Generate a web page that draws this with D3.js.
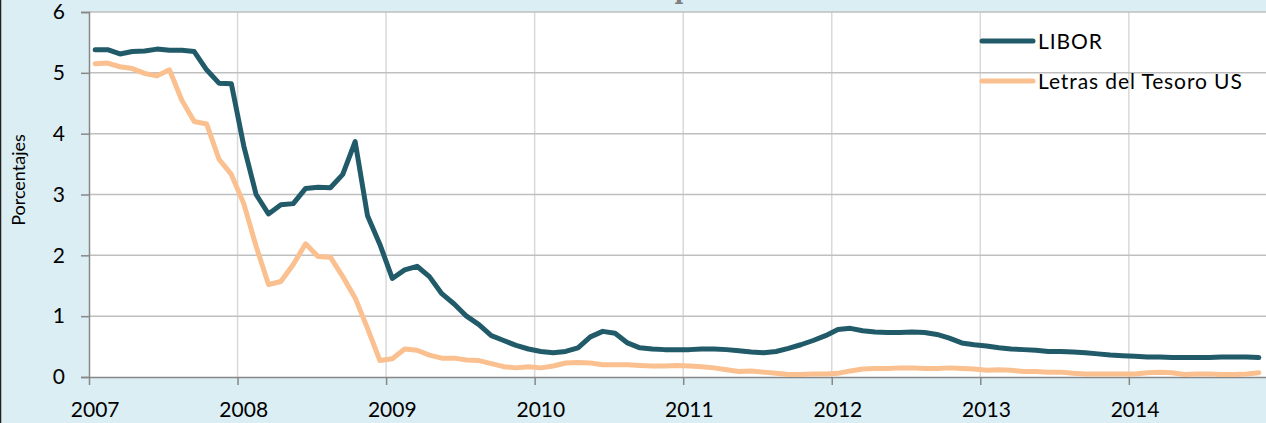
<!DOCTYPE html>
<html>
<head>
<meta charset="utf-8">
<script src="https://cdn.jsdelivr.net/npm/d3@7"></script>
<style>
  html, body { margin: 0; padding: 0; background: #dbeef4; }
  svg { display: block; font-family: Lato, "Open Sans", sans-serif; }
</style>
</head>
<body>
<svg id="chart"></svg>
<script>
// monthly data, Jan 2007 - Nov 2014
const years = ["2007", "2008", "2009", "2010", "2011", "2012", "2013", "2014"];
const yTicks = [0, 1, 2, 3, 4, 5, 6];
const seriesNames = ["LIBOR", "Letras del Tesoro US"];

const libor = [
  5.38, 5.38, 5.31, 5.35, 5.36, 5.39, 5.37, 5.37, 5.35, 5.05, 4.83, 4.82,
  3.80, 3.00, 2.68, 2.83, 2.85, 3.10, 3.12, 3.11, 3.33, 3.87, 2.65, 2.18,
  1.62, 1.76, 1.82, 1.65, 1.37, 1.20, 1.00, 0.86, 0.68, 0.60, 0.52, 0.46,
  0.42, 0.40, 0.42, 0.48, 0.66, 0.75, 0.72, 0.56, 0.48, 0.46, 0.45, 0.45,
  0.45, 0.46, 0.46, 0.45, 0.43, 0.41, 0.40, 0.42, 0.47, 0.53, 0.60, 0.68,
  0.78, 0.80, 0.76, 0.74, 0.73, 0.73, 0.74, 0.73, 0.70, 0.64, 0.56, 0.53,
  0.51, 0.48, 0.46, 0.45, 0.44, 0.42, 0.42, 0.41, 0.40, 0.38, 0.36, 0.35,
  0.34, 0.33, 0.33, 0.32, 0.32, 0.32, 0.32, 0.33, 0.33, 0.33, 0.32
];

const tbill = [
  5.15, 5.16, 5.10, 5.07, 4.99, 4.95, 5.05, 4.55, 4.20, 4.16, 3.58, 3.33,
  2.85, 2.15, 1.52, 1.57, 1.85, 2.19, 1.98, 1.97, 1.65, 1.30, 0.80, 0.27,
  0.30, 0.46, 0.44, 0.36, 0.31, 0.31, 0.28, 0.27, 0.22, 0.17, 0.15, 0.17,
  0.15, 0.18, 0.23, 0.24, 0.23, 0.20, 0.20, 0.20, 0.19, 0.18, 0.18, 0.19,
  0.18, 0.17, 0.15, 0.12, 0.09, 0.10, 0.08, 0.06, 0.04, 0.04, 0.05, 0.05,
  0.06, 0.10, 0.13, 0.14, 0.14, 0.15, 0.15, 0.14, 0.14, 0.15, 0.14, 0.13,
  0.11, 0.12, 0.11, 0.09, 0.09, 0.08, 0.08, 0.06, 0.05, 0.05, 0.05, 0.05,
  0.05, 0.07, 0.08, 0.07, 0.04, 0.05, 0.05, 0.04, 0.04, 0.05, 0.07
];

const colors = ["#215a68", "#fac090"];

const width = 1266, height = 423;
const plotLeft = 89, plotRight = 1265, plotTop = 12, plotBottom = 377;

const svg = d3.select("#chart")
  .attr("width", width)
  .attr("height", height);

svg.append("rect")
  .attr("width", width).attr("height", height)
  .attr("fill", "#dbeef4");

// left frame edge
svg.append("line")
  .attr("x1", 0.5).attr("x2", 0.5).attr("y1", 0).attr("y2", height)
  .attr("stroke", "#222").attr("stroke-width", 1.5);

// title is cut off at the top, only a descender shows
svg.append("text")
  .attr("x", 683).attr("y", -1)
  .attr("text-anchor", "middle")
  .attr("font-family", "'DejaVu Serif', serif")
  .attr("font-weight", "bold")
  .attr("font-size", 24)
  .attr("fill", "#7f7f7f")
  .text("p");

const x = d3.scaleLinear().domain([0, libor.length]).range([plotLeft, plotRight]);
const y = d3.scaleLinear().domain([0, 6]).range([plotBottom, plotTop]);

svg.append("rect")
  .attr("x", plotLeft).attr("y", plotTop)
  .attr("width", plotRight - plotLeft + 1).attr("height", plotBottom - plotTop)
  .attr("fill", "#fff");

const yearTicks = years.map((d, i) => i * 12);

// vertical grid
svg.append("g")
  .selectAll("line")
  .data(yearTicks.slice(1))
  .join("line")
  .attr("x1", d => x(d)).attr("x2", d => x(d))
  .attr("y1", plotTop).attr("y2", plotBottom)
  .attr("stroke", "#d9d9d9").attr("stroke-width", 1.5);

// horizontal grid
svg.append("g")
  .selectAll("line")
  .data(yTicks.slice(1))
  .join("line")
  .attr("x1", plotLeft).attr("x2", plotRight + 1)
  .attr("y1", d => y(d)).attr("y2", d => y(d))
  .attr("stroke", "#bfbfbf").attr("stroke-width", 1.5);

// y axis
const yAxis = svg.append("g")
  .attr("transform", `translate(${plotLeft},0)`)
  .call(d3.axisLeft(y).tickValues(yTicks).tickSize(8).tickPadding(16).tickFormat(d3.format("d")));
yAxis.select(".domain").attr("stroke", "#878787").attr("stroke-width", 1.5);
yAxis.selectAll(".tick line").attr("stroke", "#878787").attr("stroke-width", 1.5);
yAxis.selectAll(".tick text")
  .attr("font-size", 21).attr("font-family", "Lato").attr("fill", "#000");

// x axis
const xAxis = svg.append("g")
  .attr("transform", `translate(0,${plotBottom})`)
  .call(d3.axisBottom(x).tickValues(yearTicks).tickSize(8).tickFormat(""));
xAxis.select(".domain").attr("stroke", "#878787").attr("stroke-width", 1.5)
  .attr("d", `M${plotLeft},0.5H${plotRight + 1}`);
xAxis.selectAll(".tick line").attr("stroke", "#878787").attr("stroke-width", 1.5);

svg.append("g")
  .selectAll("text")
  .data(years)
  .join("text")
  .attr("x", (d, i) => x(i * 12 + 0.5))
  .attr("y", 417)
  .attr("text-anchor", "middle")
  .attr("font-size", 21)
  .attr("fill", "#000")
  .text(d => d);

// y axis title
svg.append("text")
  .attr("transform", "translate(25,180) rotate(-90)")
  .attr("text-anchor", "middle")
  .attr("font-size", 18)
  .attr("fill", "#000")
  .text("Porcentajes");

// lines
const line = d3.line()
  .x((d, i) => x(i + 0.5))
  .y(d => y(d));

[libor, tbill].forEach((s, k) => {
  svg.append("path")
    .datum(s)
    .attr("d", line)
    .attr("fill", "none")
    .attr("stroke", colors[k])
    .attr("stroke-width", 5)
    .attr("stroke-linejoin", "round")
    .attr("stroke-linecap", "round");
});

// legend
const legend = svg.append("g")
  .selectAll("g")
  .data(seriesNames)
  .join("g")
  .attr("transform", (d, i) => `translate(982,${41 + i * 40})`);

legend.append("line")
  .attr("x1", 0).attr("x2", 51)
  .attr("stroke", (d, i) => colors[i])
  .attr("stroke-width", 5)
  .attr("stroke-linecap", "round");

legend.append("text")
  .attr("x", 56).attr("y", 8)
  .attr("font-size", 21)
  .attr("letter-spacing", 0.9)
  .attr("fill", "#000")
  .text(d => d);
</script>
</body>
</html>
